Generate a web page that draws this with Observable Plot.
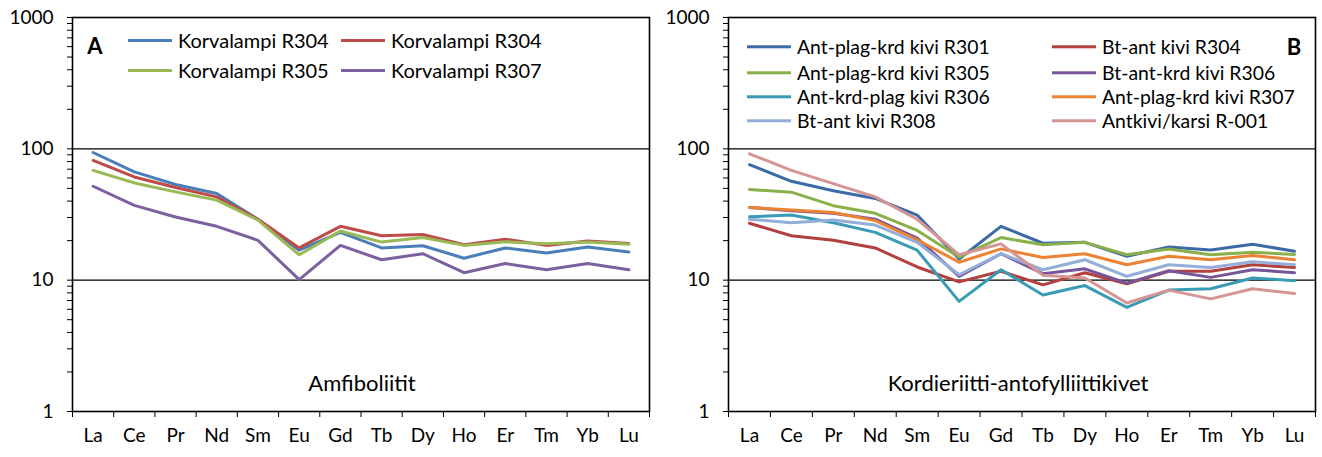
<!DOCTYPE html>
<html>
<head>
<meta charset="utf-8">
<script src="https://cdn.jsdelivr.net/npm/d3@7"></script>
<script src="https://cdn.jsdelivr.net/npm/@observablehq/plot@0.6"></script>
<style>
  html, body { margin: 0; padding: 0; background: #fff; }
  #wrap { position: relative; width: 1322px; height: 457px; font-family: Lato, "Open Sans", sans-serif; color: #000; }
  .pan { position: absolute; top: 0; }
  .leg { position: absolute; display: flex; align-items: center; white-space: nowrap; line-height: 1; transform: translateY(-50%); }
  .sw { display: inline-block; width: 44px; height: 3px; margin-right: 6px; }
  .lbl { position: absolute; white-space: nowrap; transform: translate(-50%, -50%); }
</style>
</head>
<body>
<div id="wrap">
  <div id="left" class="pan" style="left:0"></div>
  <div id="right" class="pan" style="left:661px"></div>
</div>
<script>
// ---- data ----
const categories = ["La","Ce","Pr","Nd","Sm","Eu","Gd","Tb","Dy","Ho","Er","Tm","Yb","Lu"];
const majorTicks = [1, 10, 100, 1000];
const minorTicks = [2,3,4,5,6,7,8,9,20,30,40,50,60,70,80,90,200,300,400,500,600,700,800,900];

// Panel A: Amfiboliitit
const leftNames = ["Korvalampi R304", "Korvalampi R304", "Korvalampi R305", "Korvalampi R307"];
const leftColors = ["#4A7EBB", "#BE4B48", "#98B954", "#7D60A0"];
const korvR304a = [93.8, 66.7, 53.5, 45.7, 29.1, 16.9, 23.1, 17.6, 18.3, 14.7, 17.6, 16.1, 17.9, 16.4];
const korvR304b = [81.6, 61.1, 50.7, 43.1, 29.1, 17.6, 25.7, 21.8, 22.3, 18.6, 20.5, 18.4, 19.9, 19.0];
const korvR305  = [68.6, 55.0, 47.0, 40.7, 28.7, 15.6, 23.7, 19.5, 21.1, 18.4, 19.6, 18.9, 19.5, 18.8];
const korvR307  = [51.9, 37.1, 30.3, 25.7, 20.1, 10.1, 18.4, 14.3, 15.9, 11.4, 13.4, 12.0, 13.4, 12.0];

// Panel B: Kordieriitti-antofylliittikivet
const rightNames = ["Ant-plag-krd kivi R301", "Bt-ant kivi R304", "Ant-plag-krd kivi R305", "Bt-ant-krd kivi  R306",
                    "Ant-krd-plag kivi R306", "Ant-plag-krd kivi R307", "Bt-ant kivi R308", "Antkivi/karsi R-001"];
const rightColors = ["#3C6AA6", "#B3403D", "#8AB04B", "#77559A", "#3A9BB5", "#EC8233", "#94AEDA", "#D49594"];
const apkR301 = [75.7, 56.6, 47.9, 41.9, 31.3, 14.5, 25.7, 19.1, 19.4, 15.2, 17.9, 17.0, 18.8, 16.6];
const baR304  = [27.1, 21.8, 20.1, 17.6, 12.6, 9.7, 11.7, 9.2, 11.4, 9.4, 11.7, 11.7, 13.1, 12.5];
const apkR305 = [49.0, 46.8, 36.9, 32.3, 23.9, 15.0, 21.1, 18.6, 19.4, 15.6, 17.3, 15.6, 16.3, 15.7];
const bakR306 = [35.8, 33.7, 32.3, 29.1, 20.9, 10.7, 15.9, 11.2, 12.2, 9.5, 11.8, 10.5, 12.0, 11.4];
const akpR306 = [30.4, 31.3, 27.4, 23.1, 16.9, 6.9, 12.0, 7.7, 9.1, 6.2, 8.4, 8.6, 10.4, 9.9];
const apkR307 = [35.8, 34.2, 32.7, 28.4, 20.3, 13.7, 17.3, 14.9, 15.9, 13.1, 15.2, 14.3, 15.4, 14.3];
const baR308  = [29.1, 27.4, 28.7, 26.3, 19.4, 11.0, 15.9, 12.0, 14.3, 10.7, 13.1, 12.5, 13.8, 13.1];
const akR001  = [91.7, 68.6, 54.4, 43.1, 29.1, 15.6, 18.9, 10.9, 10.4, 6.7, 8.4, 7.2, 8.6, 7.9];

const leftSeries = [korvR304a, korvR304b, korvR305, korvR307].map((values, k) => ({name: leftNames[k], color: leftColors[k], values}));
const rightSeries = [apkR301, baR304, apkR305, bakR306, akpR306, apkR307, baR308, akR001].map((values, k) => ({name: rightNames[k], color: rightColors[k], values}));

// ---- drawing ----
function panel(series, marginLeft, marginRight) {
  const boundaries = d3.range(categories.length + 1);
  const centers = categories.map((c, i) => i + 0.5);
  const marks = [
    Plot.ruleY([10, 100], {stroke: "black", strokeWidth: 1.4}),
    Plot.axisY({ticks: majorTicks, tickSize: 5, tickPadding: 14, tickFormat: d => String(d), fontSize: 19, label: null}),
    Plot.axisY({ticks: minorTicks, tickSize: 5, tickFormat: () => "", label: null}),
    Plot.axisX({ticks: boundaries, tickSize: 6, tickFormat: () => "", label: null}),
    Plot.axisX({ticks: centers, tickSize: 0, tickPadding: 17, tickFormat: d => categories[Math.floor(d)], fontSize: 19, label: null})
  ];
  for (const s of series) {
    marks.push(Plot.line(categories.map((c, i) => ({x: i + 0.5, v: s.values[i]})),
      {x: "x", y: "v", stroke: s.color, strokeWidth: 3, strokeLinejoin: "round"}));
  }
  marks.push(Plot.frame({stroke: "black", strokeWidth: 1.6}));
  return Plot.plot({
    width: 661, height: 457,
    marginTop: 17, marginBottom: 46, marginLeft, marginRight,
    x: {type: "linear", domain: [0, categories.length], label: null},
    y: {type: "log", domain: [1, 1000], label: null},
    style: {fontFamily: "Lato, sans-serif", fontSize: "19px", color: "black", background: "white", overflow: "visible"},
    marks
  });
}

document.getElementById("left").append(panel(leftSeries, 72, 12));
document.getElementById("right").append(panel(rightSeries, 67, 7));

// ---- legends and labels ----
const wrap = document.getElementById("wrap");
function addLegend(series, cols, rows, size) {
  series.forEach((s, k) => {
    const el = document.createElement("div");
    el.className = "leg";
    el.style.left = cols[k % 2] + "px";
    el.style.top = rows[Math.floor(k / 2)] + "px";
    el.style.fontSize = size + "px";
    const sw = document.createElement("span");
    sw.className = "sw";
    sw.style.background = s.color;
    el.append(sw, document.createTextNode(s.name));
    wrap.append(el);
  });
}
addLegend(leftSeries, [128, 341], [40, 70], 20);
addLegend(rightSeries, [747, 1052], [47, 73, 97, 121], 19.4);

function addLabel(text, x, y, size, bold) {
  const el = document.createElement("div");
  el.className = "lbl";
  el.textContent = text;
  el.style.left = x + "px";
  el.style.top = y + "px";
  el.style.fontSize = size + "px";
  if (bold) el.style.fontWeight = "bold";
  wrap.append(el);
}
addLabel("A", 95, 45, 22, true);
addLabel("B", 1294, 46, 22, true);
addLabel("Amfiboliitit", 362, 382, 22, false);
addLabel("Kordieriitti-antofylliittikivet", 1018, 382, 22, false);
</script>
</body>
</html>
